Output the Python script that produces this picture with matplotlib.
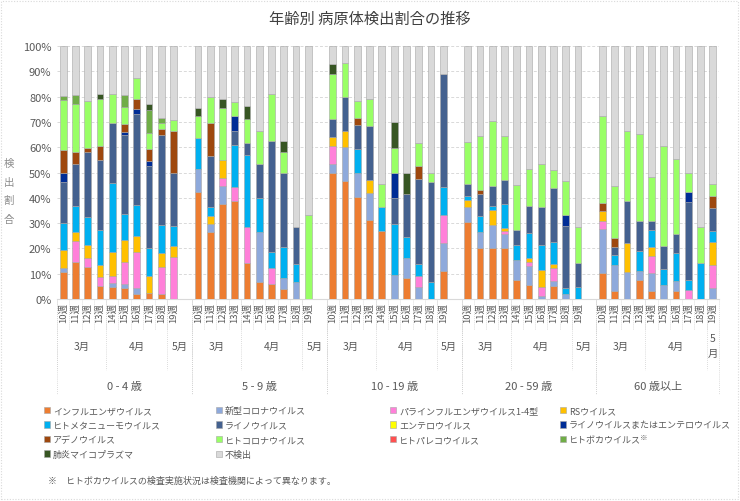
# -*- coding: utf-8 -*-
"""Pathogen detection share by age group, week 10-19
"""
import matplotlib.pyplot as plt
import numpy as np
from matplotlib.patches import Patch, Rectangle
from matplotlib.transforms import blended_transform_factory

plt.rcParams['font.family'] = ['Noto Sans CJK JP', 'DejaVu Sans']

groups = ['0 - 4 歳', '5 - 9 歳', '10 - 19 歳', '20 - 59 歳', '60 歳以上']
weeks = ['10週', '11週', '12週', '13週', '14週', '15週', '16週', '17週', '18週', '19週']
months = [('3月', 0, 3), ('4月', 4, 8), ('5月', 9, 9)]

# detection share [%], 10 weeks per age group (0-4, 5-9, 10-19, 20-59, 60+)
flu = [10.5, 14.8, 12.5, 5.0, 4.6, 4.2, 2.0, 2.4, 2.0, 0,
       42.2, 26.4, 37.6, 38.7, 14.1, 6.6, 5.9, 4.0, 0, 0,
       49.9, 46.6, 40.5, 31.4, 27.0, 0, 8.2, 0, 0, 11.0,
       30.3, 20.1, 20.2, 20.1, 7.7, 5.7, 0, 5.0, 0, 0,
       10.3, 3.3, 0, 7.5, 3.3, 0, 3.3, 0, 0, 0]
covid = [1.6, 0, 0, 0, 1.6, 1.7, 2.2, 0, 0, 0,
         9.0, 3.3, 7.0, 0, 0, 19.8, 0, 4.2, 6.9, 0,
         3.5, 13.4, 9.4, 10.6, 0, 9.6, 8.2, 4.6, 0, 11.0,
         6.0, 6.3, 9.2, 5.4, 7.9, 7.2, 1.3, 2.0, 2.0, 0,
         17.4, 10.3, 10.8, 3.7, 6.9, 5.5, 4.0, 0, 0, 4.2]
para = [0, 8.0, 3.6, 3.6, 3.0, 8.6, 14.5, 0, 10.8, 16.5,
        0, 0, 3.3, 5.5, 14.3, 0, 6.2, 0, 0, 0,
        7.0, 0, 0, 0, 0, 0, 0, 4.6, 0, 11.2,
        0, 0, 0, 1.3, 0, 1.9, 3.6, 5.1, 0, 0,
        3.0, 0, 0, 0, 6.7, 0, 0, 3.6, 0, 9.3]
rsv = [7.3, 3.8, 5.4, 5.0, 9.5, 8.9, 6.1, 6.6, 5.3, 4.3,
       0, 3.3, 7.1, 0, 0, 0, 0, 0, 0, 0,
       3.6, 6.5, 0, 5.1, 0, 0, 0, 0, 0, 0,
       2.9, 0, 5.6, 1.3, 0, 1.3, 6.6, 1.8, 0, 0,
       3.9, 0, 11.2, 0, 3.5, 0, 0, 0, 0, 8.9]
hmpv = [10.7, 10.3, 10.8, 13.7, 27.1, 10.3, 12.4, 11.2, 11.2, 8.2,
        12.4, 3.3, 0, 16.8, 28.6, 13.4, 6.4, 12.2, 7.0, 0,
        0, 0, 9.2, 0, 9.3, 20.1, 8.3, 4.8, 6.9, 11.0,
        1.4, 6.3, 1.9, 9.5, 5.8, 10.0, 10.0, 8.8, 2.2, 4.6,
        0, 3.6, 0, 7.9, 6.9, 6.4, 10.9, 3.9, 14.1, 4.6]
rhino = [16.1, 16.5, 25.7, 27.7, 23.9, 31.0, 35.8, 32.2, 35.6, 20.9,
         0, 20.2, 0, 5.6, 4.7, 13.4, 43.9, 29.5, 14.5, 0,
         7.2, 13.3, 9.5, 21.2, 0, 10.3, 16.9, 33.5, 39.3, 44.6,
         4.8, 8.9, 7.6, 9.6, 5.9, 10.6, 15.0, 21.1, 24.8, 9.6,
         0, 3.5, 16.9, 11.6, 3.4, 9.2, 7.5, 31.0, 0, 9.0]
entero = [0] * 50
rhino_entero = [3.7, 0, 0, 0, 0, 1.4, 2.2, 2.0, 0, 0,
                0, 0, 0, 5.6, 0, 0, 0, 0, 0, 0,
                0, 0, 0, 0, 0, 9.9, 0, 0, 0, 0,
                0, 0, 0, 0, 0, 0, 0, 0, 4.2, 0,
                0, 0, 0, 0, 0, 0, 0, 3.7, 0, 0]
adeno = [8.8, 4.6, 1.8, 5.3, 0, 2.9, 3.7, 4.7, 2.4, 16.7,
         0, 13.2, 0, 0, 0, 0, 0, 0, 0, 0,
         0, 0, 3.0, 0, 0, 0, 0, 4.9, 0, 0,
         0, 1.5, 0, 0, 0, 0, 0, 0, 0, 0,
         3.4, 3.4, 0, 0, 0, 0, 0, 0, 0, 4.6]
hcov = [19.8, 19.2, 18.3, 18.6, 11.4, 7.0, 8.4, 6.6, 2.4, 4.0,
        8.7, 10.1, 20.6, 5.6, 9.5, 13.4, 18.7, 8.1, 0, 33.2,
        17.9, 13.5, 6.5, 10.6, 9.1, 9.9, 0, 9.3, 3.7, 0,
        16.6, 21.3, 25.8, 17.4, 17.8, 14.8, 16.7, 7.0, 13.4, 14.2,
        34.3, 20.5, 27.7, 34.6, 17.5, 39.3, 29.7, 7.7, 14.3, 4.8]
parecho = [0] * 50
boca = [1.7, 3.3, 0, 0, 0, 4.5, 0, 9.2, 1.8, 0] + [0] * 40
myco = [0, 0, 0, 2.0, 0, 0, 0, 2.3, 0, 0,
        3.3, 0, 3.6, 0, 4.9, 0, 0, 4.3, 0, 0,
        3.9, 0, 0, 0, 0, 10.1, 8.3, 0, 0, 0] + [0] * 20
not_detected = [19.8, 19.5, 21.9, 19.1, 18.9, 19.5, 12.7, 22.8, 28.5, 29.4,
                24.4, 20.2, 20.8, 22.2, 23.9, 33.4, 18.9, 37.7, 71.6, 66.8,
                7.0, 6.7, 21.9, 21.1, 54.6, 30.1, 50.1, 38.3, 50.1, 11.2,
                38.0, 35.6, 29.7, 35.4, 54.9, 48.5, 46.8, 49.2, 53.4, 71.6,
                27.7, 55.4, 33.4, 34.7, 51.8, 39.6, 44.6, 50.1, 71.6, 54.6]

series = [('インフルエンザウイルス', flu, '#ED7D31'),
          ('新型コロナウイルス', covid, '#8EA9DB'),
          ('パラインフルエンザウイルス1-4型', para, '#FF80D9'),
          ('RSウイルス', rsv, '#FFC000'),
          ('ヒトメタニューモウイルス', hmpv, '#00B0F0'),
          ('ライノウイルス', rhino, '#44618F'),
          ('エンテロウイルス', entero, '#FFFF00'),
          ('ライノウイルスまたはエンテロウイルス', rhino_entero, '#002D96'),
          ('アデノウイルス', adeno, '#9E480E'),
          ('ヒトコロナウイルス', hcov, '#99FF66'),
          ('ヒトパレコウイルス', parecho, '#FF5050'),
          ('ヒトボカウイルス', boca, '#70AD47'),
          ('肺炎マイコプラズマ', myco, '#375623'),
          ('不検出', not_detected, '#D9D9D9')]

txt_c = '#595959'
sep_c = '#D0D0D0'

# make figure
fig = plt.figure(figsize=(7.4, 5.02), dpi=100)
ax = fig.add_axes([57 / 740, 202 / 502, 662 / 740, 253 / 502])

# 11 slots per age group (10 weeks + one blank)
pos = np.array([g * 11 + w for g in range(len(groups)) for w in range(len(weeks))])
totals = np.sum([np.array(v, float) for _, v, _ in series], axis=0)
bottom = np.zeros(len(pos))
for label, vals, col in series:
    frac = np.array(vals, float) / totals
    lw = np.where(frac > 0, 0.4, 0)
    ax.bar(pos, frac, 0.55, bottom=bottom, color=col, edgecolor='#A6A6A6',
           linewidth=lw, zorder=3)
    bottom += frac

ax.set_xlim(-0.5, 53.5)
ax.set_ylim(0, 1)
ax.set_yticks(np.arange(0, 1.01, 0.1))
ax.set_yticklabels([f'{int(round(t * 100))}%' for t in np.arange(0, 1.01, 0.1)],
                   fontsize=8, color=txt_c)
ax.set_xticks(pos)
ax.set_xticklabels(weeks * len(groups), rotation=90, fontsize=6.8, color=txt_c)
ax.tick_params(length=0, pad=2)
ax.tick_params(axis='y', pad=4)
ax.grid(axis='y', color='#D9D9D9', linestyle=(0, (3, 2)), linewidth=0.7, zorder=0)
for s in ['top', 'right', 'left']:
    ax.spines[s].set_visible(False)
ax.spines['bottom'].set_color('#D9D9D9')

# multi-level category axis
tr = blended_transform_factory(ax.transData, ax.transAxes)
sep_kw = dict(color=sep_c, linestyle=(0, (1, 1.5)), linewidth=0.6,
              transform=tr, clip_on=False)
for g, gname in enumerate(groups):
    base = g * 11
    for w in range(1, 10):
        ax.plot([base + w - 0.5] * 2, [0, -0.12], **sep_kw)
    for mname, w0, w1 in months:
        ax.plot([base + w0 - 0.5] * 2, [0, -0.28], **sep_kw)
        end = base + w1 + (0.5 if w1 < 9 else 1.5)
        if g == len(groups) - 1 and w1 == 9:
            end = 53.5
            mname = mname[0] + '\n' + mname[1]
        ax.text((base + w0 - 0.5 + end) / 2, -0.185, mname, transform=tr,
                ha='center', va='center', fontsize=7.5, color=txt_c,
                linespacing=1.6)
    gend = min(base + 10.5, 53.5)
    ax.plot([base - 0.5] * 2, [0, -0.375], **sep_kw)
    ax.plot([gend] * 2, [0, -0.375], **sep_kw)
    ax.text((base - 0.5 + gend) / 2, -0.343, gname, transform=tr,
            ha='center', va='center', fontsize=8, color=txt_c)

# titles
fig.text(0.5, 1 - 19 / 502, '年齢別 病原体検出割合の推移', ha='center', va='center',
         fontsize=11, color='#404040')
fig.text(9 / 740, 1 - 192 / 502, '検\n出\n割\n合', ha='center', va='center',
         fontsize=7.5, color='#8C8C8C', linespacing=2.1)

# legend, row-major in 4 columns
handles = [Patch(facecolor=c, edgecolor='#A6A6A6', linewidth=0.4) for _, _, c in series]
labels = [n for n, _, _ in series]
col_x = [44, 216, 390, 560]
for k, x in enumerate(col_x):
    idx = list(range(k, len(series), 4))
    leg = fig.legend([handles[i] for i in idx], [labels[i] for i in idx],
                     loc='upper left', bbox_to_anchor=(x / 740, 1 - 407 / 502),
                     frameon=False, fontsize=6.5, handlelength=0.7,
                     handleheight=0.7, handletextpad=0.3, labelspacing=0.62,
                     borderpad=0, borderaxespad=0)
    for t in leg.get_texts():
        t.set_color(txt_c)
    if k == 3:
        boca_leg = leg

fig.canvas.draw()
bt = boca_leg.get_texts()[2].get_window_extent()
fig.text((bt.x1 - 1) / 740, (bt.y1 + 2) / 502, '※', fontsize=5.5, color=txt_c,
         ha='left', va='top')

fig.text(48 / 740, 1 - 481 / 502, '※　ヒトボカウイルスの検査実施状況は検査機関によって異なります。',
         fontsize=6.5, color=txt_c, va='center')

fig.add_artist(Rectangle((0.002, 0.003), 0.995, 0.994, transform=fig.transFigure,
                         fill=False, edgecolor='#D9D9D9', linewidth=0.8,
                         linestyle=(0, (1, 1.5))))

fig.savefig('out.png', dpi=100, facecolor='white')
